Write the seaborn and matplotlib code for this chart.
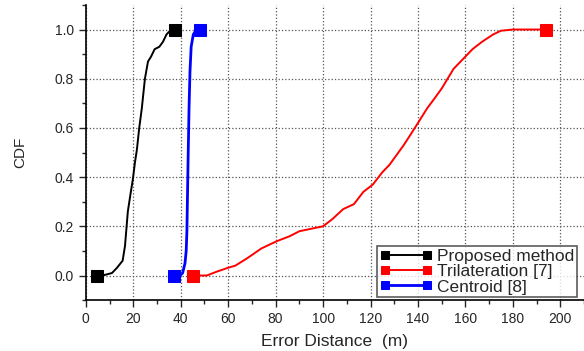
import numpy as np
import pandas as pd
import matplotlib
matplotlib.use("Agg")
import matplotlib.pyplot as plt
import seaborn as sns
from matplotlib.ticker import MultipleLocator

# data
prop_x = [4.5, 7, 11, 13, 15.5, 16.5, 17.7, 18.8, 19.8, 20.7, 21.5, 22.5, 23.6, 24.9, 26.2, 27.5, 29, 31, 32.5, 34, 36, 37.6]
prop_y = [0.0, 0.0, 0.01, 0.03, 0.06, 0.12, 0.26, 0.33, 0.39, 0.46, 0.51, 0.60, 0.68, 0.80, 0.87, 0.89, 0.92, 0.93, 0.95, 0.98, 1.0, 1.0]

tri_x = [45, 51, 55, 59.5, 63, 68, 74, 80.6, 86, 90, 95, 100, 104, 108.5, 113, 117, 121, 125, 128, 131, 134,
         136.7, 140, 143.9, 147, 150, 155, 158, 163, 167, 171.7, 175, 180, 194]
tri_y = [0.0, 0.0, 0.015, 0.03, 0.04, 0.07, 0.11, 0.14, 0.16, 0.18, 0.19, 0.20, 0.23, 0.27, 0.29, 0.34, 0.37, 0.42, 0.45, 0.49, 0.53,
         0.57, 0.62, 0.68, 0.72, 0.76, 0.84, 0.87, 0.92, 0.95, 0.98, 0.995, 1.0, 1.0]

cen_x = [37.1, 39.7, 40.8, 41.8, 42.3, 42.6, 43.1, 43.5, 43.9, 44.4, 45.3, 46.7, 48.1]
cen_y = [0.0, 0.0, 0.01, 0.05, 0.10, 0.18, 0.47, 0.68, 0.83, 0.93, 0.98, 1.0, 1.0]

series = [("Proposed method", prop_x, prop_y, "black", 1.4),
          ("Trilateration [7]", tri_x, tri_y, "#ff0000", 1.4),
          ("Centroid [8]", cen_x, cen_y, "#0000ff", 2.0)]

sns.set_style("white")
plt.rcParams['font.family'] = ['Liberation Sans', 'DejaVu Sans']

fig = plt.figure(figsize=(5.84, 3.51), dpi=100)
ax = fig.add_axes([0.147, 0.145, 0.853, 0.841])

for name, xs, ys, col, lw in series:
    df = pd.DataFrame({"x": xs, "y": ys})
    sns.lineplot(data=df, x="x", y="y", sort=False, ax=ax, color=col, lw=lw,
                 marker="s", markersize=8, markevery=[0, len(xs) - 1],
                 markeredgecolor=col, label=name)

ax.set_xlim(0, 210)
ax.set_ylim(-0.1, 1.1)
ax.xaxis.set_major_locator(MultipleLocator(20))
ax.xaxis.set_minor_locator(MultipleLocator(10))
ax.yaxis.set_major_locator(MultipleLocator(0.2))
ax.yaxis.set_minor_locator(MultipleLocator(0.1))
ax.set_yticks(np.arange(0, 1.01, 0.2))
ax.set_yticklabels([f"{v:.1f}" for v in np.arange(0, 1.01, 0.2)])
ax.tick_params(which="major", direction="out", length=5, width=1, labelsize=10, left=True, bottom=True)
ax.tick_params(which="minor", direction="out", length=3, width=1, left=True, bottom=True)
ax.grid(True, which="major", linestyle=":", color="#555555", linewidth=0.9)

for s in ["top", "right"]:
    ax.spines[s].set_visible(False)
for s in ["left", "bottom"]:
    ax.spines[s].set_color("black")
    ax.spines[s].set_linewidth(1.2)

ax.set_xlabel("Error Distance  (m)", fontsize=12.5, labelpad=6)
ax.set_ylabel("CDF", fontsize=11, labelpad=20)

leg = ax.legend(loc="lower right", bbox_to_anchor=(0.986, 0.01), numpoints=2, fontsize=12.5,
                frameon=True, fancybox=False, edgecolor="#333333", handlelength=3.0,
                handletextpad=0.3, borderpad=0.15, labelspacing=0.0, borderaxespad=0.0,
                markerscale=0.7)
leg.get_frame().set_linewidth(1.2)

fig.savefig("out.png", dpi=100)
